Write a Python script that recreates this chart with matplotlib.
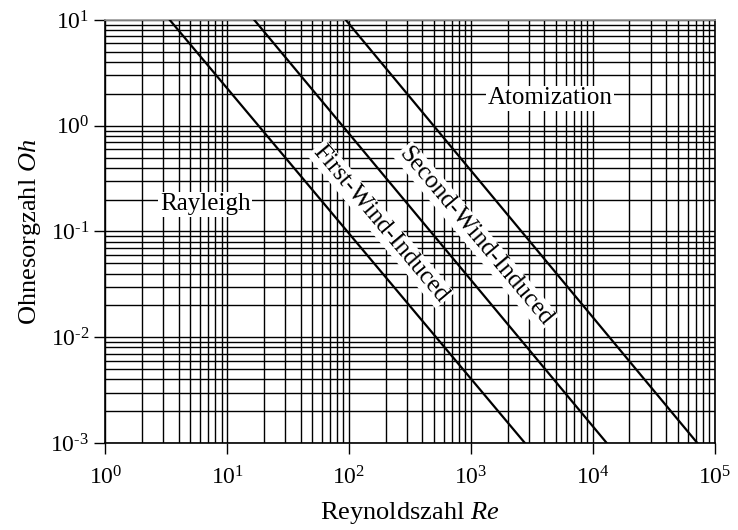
import numpy as np
from matplotlib import pyplot as plt
from matplotlib.ticker import LogLocator, FuncFormatter, NullFormatter

# Regime boundaries, read as Re where each line hits Oh = 10 and Oh = 1e-3
oh_ends = [10.0, 1e-3]
re_rayleigh_first = [3.38, 2770]
re_first_second = [16.7, 13000]
re_second_atom = [94, 72000]

# Regime labels: text, Re, Oh, rotation
label_text = ["Atomization", "Rayleigh", "First-Wind-Induced", "Second-Wind-Induced"]
label_re = [4440, 6.6, 182, 1100]
label_oh = [1.82, 0.18, 0.118, 0.09]
label_rot = [0, 0, -50, -50]

plt.rcParams["font.family"] = "Liberation Serif"
plt.rcParams["mathtext.fontset"] = "custom"
plt.rcParams["mathtext.rm"] = "Liberation Serif"
plt.rcParams["mathtext.it"] = "Liberation Serif:italic"


def pow10(v, pos):
    """ 10^n labels with a short hyphen as minus, like the original """
    e = int(round(np.log10(v)))
    sign = "\u2010" if e < 0 else ""
    return "$\\mathrm{10}^{" + sign + str(abs(e)) + "}$"


fig = plt.figure(figsize=(7.38, 5.30), dpi=100)
ax = fig.add_axes([0.1427, 0.1642, 0.8257, 0.7981])

ax.set_xscale("log")
ax.set_yscale("log")
ax.set_xlim(1, 1e5)
ax.set_ylim(1e-3, 10)

# dense black grid, major and minor
ax.xaxis.set_minor_locator(LogLocator(base=10, subs=np.arange(2, 10)))
ax.yaxis.set_minor_locator(LogLocator(base=10, subs=np.arange(2, 10)))
ax.xaxis.set_minor_formatter(NullFormatter())
ax.yaxis.set_minor_formatter(NullFormatter())
ax.xaxis.set_major_formatter(FuncFormatter(pow10))
ax.yaxis.set_major_formatter(FuncFormatter(pow10))
ax.grid(True, which="both", color="black", linewidth=1.0)
ax.set_axisbelow(True)

for re_pair in [re_rayleigh_first, re_first_second, re_second_atom]:
    ax.plot(re_pair, oh_ends, color="black", linewidth=1.6, zorder=3)

for txt, x, y, r in zip(label_text, label_re, label_oh, label_rot):
    ax.text(x, y, txt, fontsize=18, ha="center", va="center", rotation=r,
            zorder=4, bbox=dict(facecolor="white", edgecolor="none", pad=1))

ax.tick_params(which="major", direction="out", length=8, width=1.0,
               labelsize=17, colors="black")
ax.tick_params(axis="x", which="major", pad=9)
ax.tick_params(which="minor", length=0)
for s in ax.spines.values():
    s.set_color("black")
    s.set_linewidth(1.2)
ax.spines["top"].set_color("0.6")

ax.set_xlabel("Reynoldszahl $Re$", fontsize=19, labelpad=7)
ax.set_ylabel("Ohnesorgzahl $Oh$", fontsize=19, labelpad=5)

fig.savefig("out.png", dpi=100)
